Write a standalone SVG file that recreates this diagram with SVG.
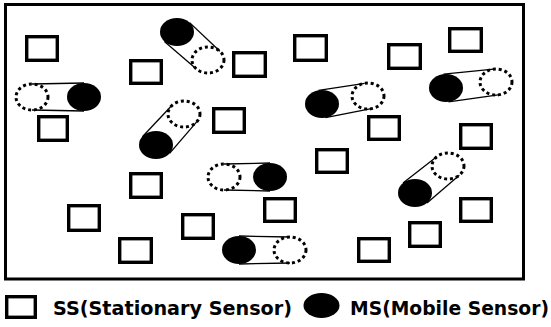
<svg xmlns="http://www.w3.org/2000/svg" width="551" height="327" viewBox="0 0 551 327">
<style>
.frame{fill:none;stroke:#000;stroke-width:3}
.ss{fill:#fff;stroke:#000;stroke-width:3.4}
.ms{fill:#000}
.old{fill:none;stroke:#000;stroke-width:3;stroke-dasharray:3 2.9}
.trk{stroke:#000;stroke-width:1.3;fill:none}
.lbl{font-family:"DejaVu Sans","Liberation Sans",sans-serif;font-weight:bold;font-size:19px;fill:#000}
</style>
<rect width="551" height="327" fill="#fff"/>
<rect id="field" class="frame" x="5.5" y="4.5" width="518" height="274.5"/>
<g id="connectors">
<line class="trk" x1="164.4" y1="41.4" x2="196.1" y2="68.7"/>
<line class="trk" x1="189.6" y1="22.6" x2="219.9" y2="51.3"/>
<line class="trk" x1="84" y1="83" x2="32" y2="84"/>
<line class="trk" x1="84" y1="111" x2="32" y2="110"/>
<line class="trk" x1="169.6" y1="153.4" x2="196.9" y2="121.7"/>
<line class="trk" x1="142.4" y1="136.7" x2="171.1" y2="106.3"/>
<line class="trk" x1="270" y1="163" x2="224" y2="164"/>
<line class="trk" x1="270" y1="191" x2="224" y2="190"/>
<line class="trk" x1="239" y1="236" x2="290" y2="237"/>
<line class="trk" x1="239" y1="264" x2="290" y2="263"/>
<line class="trk" x1="325.5" y1="117.7" x2="371.3" y2="108.7"/>
<line class="trk" x1="318.5" y1="90.3" x2="364.7" y2="83.3"/>
<line class="trk" x1="448.5" y1="101.9" x2="498.3" y2="94.9"/>
<line class="trk" x1="443.5" y1="74.2" x2="493.7" y2="69.1"/>
<line class="trk" x1="427" y1="202.9" x2="459.3" y2="175.2"/>
<line class="trk" x1="403" y1="183.1" x2="436.7" y2="156.8"/>
</g>
<g id="ss1"><rect class="ss" x="26.7" y="36.7" width="30.6" height="23.6"/></g>
<g id="ss2"><rect class="ss" x="130.7" y="60.7" width="30.6" height="22.6"/></g>
<g id="ss3"><rect class="ss" x="233.7" y="52.7" width="31.6" height="23.6"/></g>
<g id="ss4"><rect class="ss" x="38.7" y="116.7" width="28.6" height="23.6"/></g>
<g id="ss5"><rect class="ss" x="213.7" y="108.7" width="30.6" height="23.6"/></g>
<g id="ss6"><rect class="ss" x="130.7" y="173.7" width="30.6" height="23.6"/></g>
<g id="ss7"><rect class="ss" x="68.7" y="205.7" width="30.6" height="24.6"/></g>
<g id="ss8"><rect class="ss" x="182.7" y="214.7" width="30.6" height="23.6"/></g>
<g id="ss9"><rect class="ss" x="119.7" y="238.7" width="31.6" height="23.6"/></g>
<g id="ss10"><rect class="ss" x="264.7" y="198.7" width="30.6" height="22.6"/></g>
<g id="ss11"><rect class="ss" x="294.7" y="35.7" width="31.6" height="24.6"/></g>
<g id="ss12"><rect class="ss" x="388.7" y="44.7" width="31.6" height="23.6"/></g>
<g id="ss13"><rect class="ss" x="449.7" y="28.7" width="31.6" height="22.6"/></g>
<g id="ss14"><rect class="ss" x="368.7" y="116.7" width="30.6" height="22.6"/></g>
<g id="ss15"><rect class="ss" x="460.7" y="124.7" width="30.6" height="23.6"/></g>
<g id="ss16"><rect class="ss" x="316.7" y="149.7" width="30.6" height="22.6"/></g>
<g id="ss17"><rect class="ss" x="460.7" y="198.7" width="30.6" height="22.6"/></g>
<g id="ss18"><rect class="ss" x="409.7" y="222.7" width="30.6" height="23.6"/></g>
<g id="ss19"><rect class="ss" x="358.7" y="238.7" width="30.6" height="22.6"/></g>
<g id="ms1"><ellipse class="ms" cx="177" cy="32" rx="17" ry="14"/><ellipse class="old" cx="208" cy="60" rx="16" ry="13"/></g>
<g id="ms2"><ellipse class="ms" cx="84" cy="97" rx="17" ry="14"/><ellipse class="old" cx="32" cy="97" rx="16" ry="13"/></g>
<g id="ms3"><ellipse class="ms" cx="156" cy="145" rx="17" ry="14"/><ellipse class="old" cx="184" cy="114" rx="16" ry="13"/></g>
<g id="ms4"><ellipse class="ms" cx="270" cy="177" rx="17" ry="14"/><ellipse class="old" cx="224" cy="177" rx="16" ry="13"/></g>
<g id="ms5"><ellipse class="ms" cx="239" cy="250" rx="17" ry="14"/><ellipse class="old" cx="290" cy="250" rx="16" ry="13"/></g>
<g id="ms6"><ellipse class="ms" cx="322" cy="104" rx="17" ry="14"/><ellipse class="old" cx="368" cy="96" rx="16" ry="13"/></g>
<g id="ms7"><ellipse class="ms" cx="446" cy="88" rx="17" ry="14"/><ellipse class="old" cx="496" cy="82" rx="16" ry="13"/></g>
<g id="ms8"><ellipse class="ms" cx="415" cy="193" rx="17" ry="14"/><ellipse class="old" cx="448" cy="166" rx="16" ry="13"/></g>
<g id="legend-ss">
<rect class="ss" x="6.7" y="296.7" width="28.6" height="20.6"/>
<text class="lbl" x="53" y="315" textLength="239" lengthAdjust="spacingAndGlyphs">SS(Stationary Sensor)</text>
</g>
<g id="legend-ms">
<ellipse class="ms" cx="321.5" cy="305.5" rx="18" ry="12.5"/>
<text class="lbl" x="350" y="315" textLength="199" lengthAdjust="spacingAndGlyphs">MS(Mobile Sensor)</text>
</g>
</svg>
